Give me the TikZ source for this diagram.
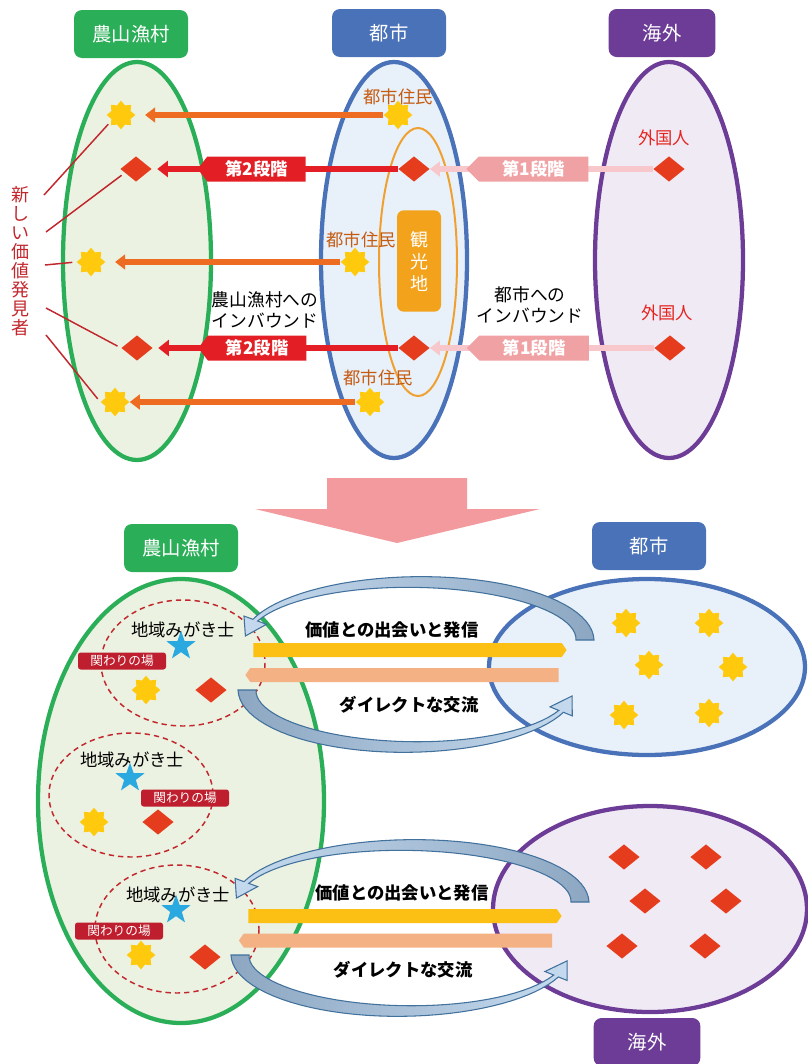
\documentclass[tikz,border=0pt]{standalone}
\usepackage{fontspec}
\setmainfont{Noto Sans CJK JP}
\usepackage{tikz}
\usetikzlibrary{shapes.geometric,shapes.symbols,arrows.meta,positioning}

\definecolor{villageG}{HTML}{2BAE58}
\definecolor{villageL}{HTML}{EBF2E1}
\definecolor{cityB}{HTML}{4A72B8}
\definecolor{cityL}{HTML}{E8F1F9}
\definecolor{abroadP}{HTML}{6C3C97}
\definecolor{abroadL}{HTML}{F0EAF4}
\definecolor{tourO}{HTML}{F0A030}
\definecolor{spotO}{HTML}{F3A21C}
\definecolor{townO}{HTML}{EE6B22}
\definecolor{stageR}{HTML}{E31E24}
\definecolor{stageP}{HTML}{F0A1A4}
\definecolor{stageL}{HTML}{F7C7CB}
\definecolor{gemR}{HTML}{E63C1E}
\definecolor{starY}{HTML}{FFC90D}
\definecolor{starB}{HTML}{2AA9E0}
\definecolor{finderR}{HTML}{C1272D}
\definecolor{placeR}{HTML}{BE1E2D}
\definecolor{residentO}{HTML}{C55A11}
\definecolor{foreignR}{HTML}{E52420}
\definecolor{bigP}{HTML}{F29A9E}
\definecolor{sendY}{HTML}{FBC013}
\definecolor{replyP}{HTML}{F4B183}
\definecolor{swDark}{HTML}{8DA7C2}
\definecolor{swLight}{HTML}{C5DAEE}
\definecolor{swEdge}{HTML}{41719C}

\tikzset{
  areabox/.style={rectangle, rounded corners=6pt, minimum width=85.5pt, minimum height=36pt, text=white, font=\fontsize{14.5}{16}\selectfont},
  zone/.style={line width=3.2pt},
  burst/.style={star, star points=8, star point ratio=1.38, minimum size=21.5pt, inner sep=0pt, fill=starY},
  gem/.style={diamond, minimum width=23.5pt, minimum height=19pt, inner sep=0pt, fill=gemR},
  bluestar/.style={star, star points=5, star point ratio=2.5, minimum size=23pt, inner sep=0pt, fill=starB},
  resident/.style={text=residentO, font=\fontsize{13}{14}\selectfont, inner sep=0pt},
  foreigner/.style={text=foreignR, font=\fontsize{13}{14}\selectfont, inner sep=0pt},
  townflow/.style={draw=townO, line width=4.5pt, -{Triangle[width=11pt,length=7.5pt]}, shorten >=7pt},
  stage2line/.style={draw=stageR, line width=5pt, -{Triangle[width=12pt,length=8pt]}, shorten >=4pt},
  stage1line/.style={draw=stageL, line width=4.5pt, -{Triangle[width=11pt,length=7.5pt]}},
  stage2tag/.style={shape=signal, signal to=west, signal pointer angle=105, fill=stageR, text=white, font=\bfseries\fontsize{13}{14}\selectfont, minimum width=81pt, minimum height=18.75pt, inner sep=1pt},
  stage1tag/.style={shape=signal, signal to=west, signal pointer angle=90, fill=stageP, text=white, font=\bfseries\fontsize{13}{14}\selectfont, minimum width=91.5pt, minimum height=18.75pt, inner sep=1pt},
  finderline/.style={draw=finderR, line width=1.1pt, shorten >=3pt},
  inbound/.style={align=center, font=\fontsize{13.3}{15.75}\selectfont},
  place/.style={draw=finderR, line width=1.1pt, dash pattern=on 4pt off 3pt},
  polisher/.style={font=\fontsize{13}{14}\selectfont, inner sep=0pt},
  tag/.style={rectangle, rounded corners=2pt, fill=placeR, text=white, font=\fontsize{9.5}{10}\selectfont, minimum width=66pt, minimum height=12.75pt, inner sep=0pt},
  sendbar/.style={shape=signal, signal to=east, signal pointer angle=110, fill=sendY, minimum width=235pt, minimum height=10.5pt, inner sep=0pt},
  replybar/.style={shape=signal, signal to=west, signal pointer angle=110, fill=replyP, minimum width=235pt, minimum height=10.5pt, inner sep=0pt},
  flow/.style={font=\bfseries\fontsize{13}{14}\selectfont, inner sep=0pt},
  swooshedge/.style={draw=swEdge, line width=0.8pt}
}

% curved band arrow along an ellipse: cx, cy, rx, ry, start, end, colours
\newcommand{\swoosh}[7]{%
  \path[swooshedge,#7]
    plot[domain=#5:#6, samples=40, variable=\ang]
      ({#1+(#3+9-6.5*(\ang-#5)/(#6-#5))*cos(\ang)}, {#2-(#4+9-6.5*(\ang-#5)/(#6-#5))*sin(\ang)})
    -- ({#1+(#3+12)*cos(#6)}, {#2-(#4+12)*sin(#6)})
    -- ({#1+#3*cos(#6+16)}, {#2-#4*sin(#6+16)})
    -- ({#1+(#3-12)*cos(#6)}, {#2-(#4-12)*sin(#6)})
    -- plot[domain=#6:#5, samples=40, variable=\ang]
      ({#1+(#3-9+6.5*(\ang-#5)/(#6-#5))*cos(\ang)}, {#2-(#4-9+6.5*(\ang-#5)/(#6-#5))*sin(\ang)})
    -- cycle;}

\begin{document}
\begin{tikzpicture}[x=0.75pt, y=-0.75pt]
  \useasboundingbox (0,0) rectangle (807,1064);

  % ---- top: inbound in two stages
  \node[areabox, fill=villageG] (village) at (131,34) {農山漁村};
  \node[areabox, fill=cityB] (city) at (389,33) {都市};
  \node[areabox, fill=abroadP, minimum width=80pt] (abroad) at (662,33) {海外};

  \draw[zone, draw=villageG, fill=villageL] (137,261) ellipse [x radius=74, y radius=199];
  \draw[zone, draw=cityB, fill=cityL] (394,260) ellipse [x radius=73, y radius=198];
  \draw[draw=tourO, line width=1.5pt] (418,262) ellipse [x radius=39, y radius=134];
  \draw[zone, draw=abroadP, fill=abroadL] (669,260) ellipse [x radius=74, y radius=198];

  \node[rectangle, rounded corners=5pt, fill=spotO, text=white, minimum width=33pt, minimum height=76pt,
        align=center, font=\fontsize{13.5}{16.5}\selectfont] (spot) at (419,261) {観\\光\\地};

  \node[burst] (ls1) at (121,115) {};
  \node[burst] (ls2) at (91,262) {};
  \node[burst] (ls3) at (115,402) {};
  \node[gem] (lg1) at (136,169) {};
  \node[gem] (lg2) at (137,348) {};
  \node[burst] (ms1) at (398,115) {};
  \node[burst] (ms2) at (355,262) {};
  \node[burst] (ms3) at (370,402) {};
  \node[gem] (mg1) at (414,169) {};
  \node[gem] (mg2) at (414,348) {};
  \node[gem] (rg1) at (669,169) {};
  \node[gem] (rg2) at (670,348) {};

  \node[resident] (res1) at (398,97) {都市住民};
  \node[resident] (res2) at (361,240) {都市住民};
  \node[resident] (res3) at (378,378) {都市住民};
  \node[foreigner] (for1) at (664,138) {外国人};
  \node[foreigner] (for2) at (667,313) {外国人};

  \draw[townflow] (ms1.west) -- (ls1.east);
  \draw[townflow] (ms2.west) -- (ls2.east);
  \draw[townflow, shorten >=0pt] (ms3.west) -- (ls3.east);

  \draw[stage2line] (mg1.west) -- node[pos=0.575, stage2tag] (tag2a) {第2段階} (lg1.east);
  \draw[stage2line] (mg2.west) -- node[pos=0.575, stage2tag] (tag2b) {第2段階} (lg2.east);
  \draw[stage1line] (rg1.west) -- node[pos=0.535, stage1tag] (tag1a) {第1段階} (mg1.east);
  \draw[stage1line] (rg2.west) -- node[pos=0.535, stage1tag] (tag1b) {第1段階} (mg2.east);

  \node[text=finderR, align=center, font=\fontsize{13.5}{14.25}\selectfont] (finder) at (21,261)
    {新\\し\\い\\価\\値\\発\\見\\者};
  \coordinate (f1) at (44,195);
  \coordinate (f2) at (46,232);
  \coordinate (f3) at (45,265);
  \coordinate (f4) at (46,308);
  \coordinate (f5) at (46,335);
  \draw[finderline] (f1) -- (ls1.212);
  \draw[finderline] (f2) -- (lg1.199);
  \draw[finderline] (f3) -- (ls2.west);
  \draw[finderline] (f4) -- (lg2.west);
  \draw[finderline] (f5) -- (ls3.west);

  \node[inbound] (toVillage) at (265,310) {農山漁村への\\インバウンド};
  \node[inbound] (toCity) at (530,305) {都市への\\インバウンド};

  \fill[bigP] (327,478) -- (467,478) -- (467,509) -- (540,509) -- (397,543) -- (255,509) -- (327,509) -- cycle;

  % ---- bottom: direct exchange
  \node[areabox, fill=villageG] (village2) at (181,548) {農山漁村};
  \node[areabox, fill=cityB] (city2) at (649,546) {都市};
  \node[areabox, fill=abroadP, minimum width=80pt] (abroad2) at (647,1042) {海外};

  \draw[zone, draw=villageG, fill=villageL] (181,801) ellipse [x radius=143, y radius=222];
  \draw[zone, draw=cityB, fill=cityL] (647,667) ellipse [x radius=158, y radius=88];
  \draw[zone, draw=abroadP, fill=abroadL] (650,909) ellipse [x radius=157, y radius=103];

  \draw[place] (183,663) ellipse [x radius=82, y radius=63];
  \draw[place] (131,795) ellipse [x radius=82, y radius=62];
  \draw[place] (177,929) ellipse [x radius=82, y radius=64];

  \node[polisher] (pol1) at (183,630) {地域みがき士};
  \node[bluestar] (bs1) at (181,646) {};
  \node[tag] (tagp1) at (122,661) {関わりの場};
  \node[burst] (vs1) at (146,690) {};
  \node[gem] (vg1) at (211,690) {};

  \node[polisher] (pol2) at (132,760) {地域みがき士};
  \node[bluestar] (bs2) at (130,778) {};
  \node[tag] (tagp2) at (185,798) {関わりの場};
  \node[burst] (vs2) at (94,822) {};
  \node[gem] (vg2) at (158,822) {};

  \node[polisher] (pol3) at (178,895) {地域みがき士};
  \node[bluestar] (bs3) at (176,910) {};
  \node[tag] (tagp3) at (119,931) {関わりの場};
  \node[burst] (vs3) at (141,955) {};
  \node[gem] (vg3) at (205,957) {};

  \node[burst] (cs1) at (626,623) {};
  \node[burst] (cs2) at (709,623) {};
  \node[burst] (cs3) at (649,665) {};
  \node[burst] (cs4) at (733,667) {};
  \node[burst] (cs5) at (624,715) {};
  \node[burst] (cs6) at (709,713) {};

  \node[gem] (ag1) at (624,857) {};
  \node[gem] (ag2) at (706,857) {};
  \node[gem] (ag3) at (645,901) {};
  \node[gem] (ag4) at (726,901) {};
  \node[gem] (ag5) at (622,946) {};
  \node[gem] (ag6) at (705,946) {};

  \swoosh{415}{640}{170}{58}{0}{160}{left color=swLight, right color=swDark}
  \swoosh{410}{690}{163}{57}{180}{338}{left color=swDark, right color=swLight}
  \swoosh{408}{902}{172}{57}{0}{160}{left color=swLight, right color=swDark}
  \swoosh{404}{955}{164}{56}{180}{338}{left color=swDark, right color=swLight}

  \node[sendbar] (send1) at (407.5,650) {};
  \node[replybar] (reply1) at (404.5,675) {};
  \node[sendbar] (send2) at (402.5,916) {};
  \node[replybar] (reply2) at (398,940.5) {};

  \node[flow] (meet1) at (392,630) {価値との出会いと発信};
  \node[flow] (direct1) at (409,705) {ダイレクトな交流};
  \node[flow] (meet2) at (402,893) {価値との出会いと発信};
  \node[flow] (direct2) at (403,970) {ダイレクトな交流};
\end{tikzpicture}
\end{document}
